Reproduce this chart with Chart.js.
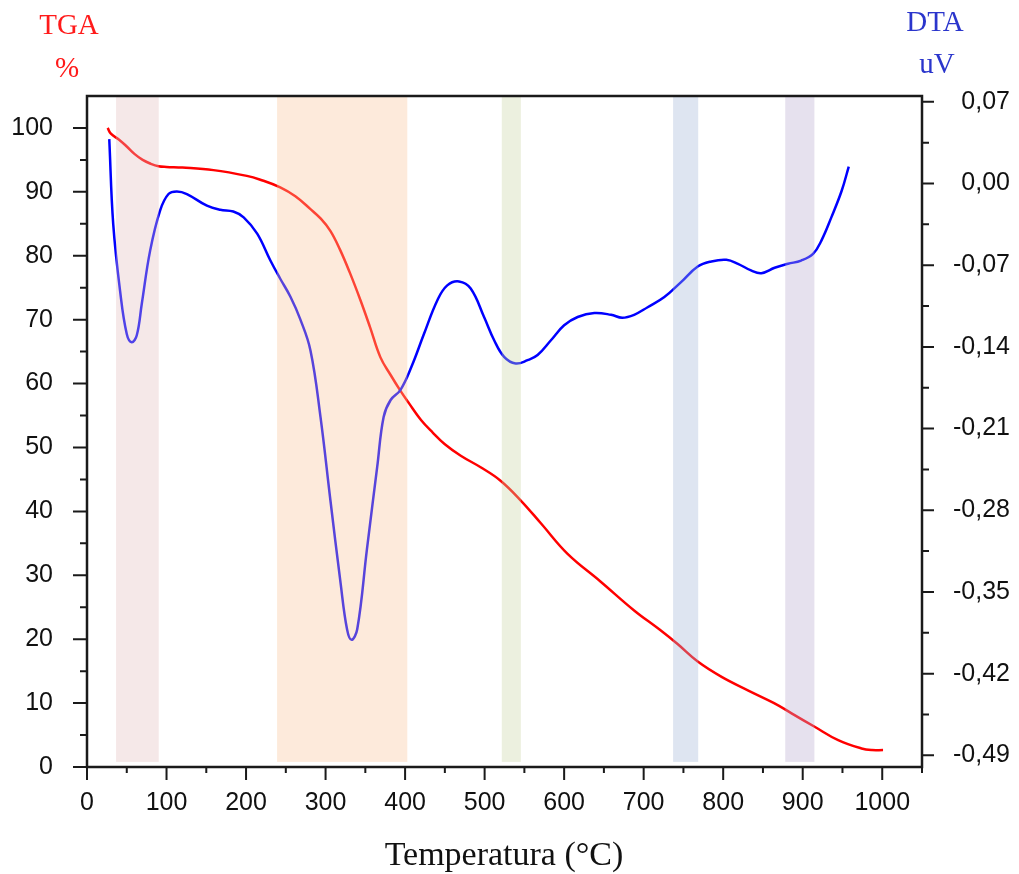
<!DOCTYPE html>
<html>
<head>
<meta charset="utf-8">
<script src="https://cdn.jsdelivr.net/npm/chart.js@4"></script>
<style>
  html, body { margin: 0; padding: 0; background: #fff; }
  #wrap { width: 1019px; height: 874px; }
</style>
</head>
<body>
<div id="wrap"><canvas id="grafico"></canvas></div>
<script>
// TGA (% massa) vs temperatura
const tgaTemp = [26, 30, 40, 50, 60, 70, 80, 90, 100, 120, 159, 201, 218, 243, 262, 281, 294, 306, 318, 331, 344, 356, 369, 382, 394, 405, 420, 435, 450, 470, 495, 520, 545.5, 571, 604, 646, 688, 720, 743, 768, 798, 831, 864, 886, 915, 944.6, 974, 987, 1001];
const tgaVal = [100, 99.1, 98.2, 97.1, 95.9, 95.0, 94.4, 94.0, 93.9, 93.8, 93.4, 92.5, 91.9, 90.7, 89.3, 87.3, 85.8, 83.9, 81.0, 77.2, 73.0, 68.8, 64.1, 61.3, 58.9, 56.9, 54.3, 52.3, 50.5, 48.7, 46.9, 44.8, 41.7, 38.1, 33.4, 29.0, 24.5, 21.5, 19.2, 16.5, 14.1, 12.0, 10.0, 8.4, 6.3, 4.2, 2.9, 2.65, 2.65];

// DTA (uV) vs temperatura
const dtaTemp = [28, 33, 41.6, 50, 56.3, 62.6, 68.9, 79.4, 92, 102.5, 113, 125.6, 150.8, 167.6, 184, 197, 214, 230.6, 243, 255.8, 268, 281, 293.6, 306, 318.8, 327, 332.6, 339.8, 352, 365, 373, 381.8, 394, 408, 423.7, 440.6, 453, 467.8, 482.5, 499.3, 512, 524.5, 539, 554, 566.6, 583.4, 600, 617, 638, 659, 673, 688, 705, 726, 747, 768, 785, 804, 818.6, 835, 848, 864.7, 881.6, 898, 913, 923.5, 936, 949, 957.9];
const dtaVal = [0.038, -0.035, -0.092, -0.129, -0.136, -0.130, -0.103, -0.0575, -0.023, -0.009, -0.0068, -0.009, -0.019, -0.0225, -0.024, -0.029, -0.043, -0.066, -0.0816, -0.097, -0.116, -0.143, -0.200, -0.271, -0.342, -0.382, -0.391, -0.382, -0.3135, -0.2424, -0.200, -0.1855, -0.177, -0.157, -0.129, -0.100, -0.0873, -0.0839, -0.090, -0.1144, -0.1343, -0.1485, -0.1542, -0.1514, -0.147, -0.1343, -0.1215, -0.1144, -0.111, -0.1125, -0.115, -0.1125, -0.106, -0.0973, -0.0845, -0.0711, -0.0668, -0.0654, -0.0688, -0.0745, -0.0768, -0.0722, -0.0688, -0.066, -0.0603, -0.0489, -0.029, -0.0062, 0.0145];

// faixas de temperatura destacadas
const faixaInicio = [36.5, 239, 521.6, 737, 878];
const faixaFim = [90.2, 402.8, 545.6, 768.6, 914.7];
const faixaBase = 0.8;
const faixaCores = ['rgba(226,189,189,0.35)', 'rgba(249,195,152,0.35)', 'rgba(201,212,164,0.35)', 'rgba(161,181,215,0.35)', 'rgba(184,169,206,0.35)'];

// ticks
const xTicks = [0, 100, 200, 300, 400, 500, 600, 700, 800, 900, 1000];
const xMinor = [50, 150, 250, 350, 450, 550, 650, 750, 850, 950, 1050];
const tgaTicks = [0, 10, 20, 30, 40, 50, 60, 70, 80, 90, 100];
const tgaMinor = [5, 15, 25, 35, 45, 55, 65, 75, 85, 95];
const dtaTicks = [-0.49, -0.42, -0.35, -0.28, -0.21, -0.14, -0.07, 0, 0.07];
const dtaMinor = [-0.455, -0.385, -0.315, -0.245, -0.175, -0.105, -0.035, 0.035];

const temMarca = (lista, v) => lista.some(t => Math.abs(t - v) < 1e-9);
const todos = (a, b) => [...a, ...b].sort((p, q) => p - q).map(v => ({ value: v }));

const fonteTicks = { family: 'Liberation Sans, Arial', size: 25 };

const molduraPlugin = {
  id: 'moldura',
  afterDatasetsDraw(chart) {
    const { ctx, chartArea: a, scales } = chart;
    const yb = scales.yTGA.getPixelForValue(faixaBase);
    ctx.save();
    faixaInicio.forEach((f, i) => {
      const x0 = scales.x.getPixelForValue(f);
      const x1 = scales.x.getPixelForValue(faixaFim[i]);
      ctx.fillStyle = faixaCores[i];
      ctx.fillRect(x0, a.top, x1 - x0, yb - a.top);
    });
    ctx.restore();
  },
  afterDraw(chart) {
    const { ctx, chartArea: a, scales } = chart;
    ctx.save();
    ctx.strokeStyle = '#1a1a1a';
    ctx.lineWidth = 2;
    ctx.beginPath();
    xTicks.concat(xMinor).forEach(v => {
      const p = scales.x.getPixelForValue(v);
      ctx.moveTo(p, a.bottom);
      ctx.lineTo(p, a.bottom + (temMarca(xTicks, v) ? 13 : 6));
    });
    tgaTicks.concat(tgaMinor).forEach(v => {
      const p = scales.yTGA.getPixelForValue(v);
      ctx.moveTo(a.left, p);
      ctx.lineTo(a.left - (temMarca(tgaTicks, v) ? 14 : 7), p);
    });
    dtaTicks.concat(dtaMinor).forEach(v => {
      const p = scales.yDTA.getPixelForValue(v);
      ctx.moveTo(a.right, p);
      ctx.lineTo(a.right + (temMarca(dtaTicks, v) ? 12 : 7), p);
    });
    ctx.stroke();
    ctx.lineWidth = 2.5;
    ctx.strokeRect(a.left, a.top, a.right - a.left, a.bottom - a.top);

    ctx.textAlign = 'center';
    ctx.textBaseline = 'alphabetic';
    ctx.font = '29px "Liberation Serif", "Times New Roman", serif';
    ctx.fillStyle = '#ff1a1a';
    ctx.fillText('TGA', 69, 34);
    ctx.fillText('%', 67, 77);
    ctx.fillStyle = '#2a35cc';
    ctx.fillText('DTA', 935, 31);
    ctx.fillText('uV', 937, 73);
    ctx.fillStyle = '#111';
    ctx.font = '34px "Liberation Serif", "Times New Roman", serif';
    ctx.fillText('Temperatura (°C)', 504, 865);
    ctx.restore();
  }
};

new Chart(document.getElementById('grafico'), {
  type: 'line',
  data: {
    datasets: [
      {
        label: 'DTA',
        data: dtaTemp.map((t, i) => ({ x: t, y: dtaVal[i] })),
        yAxisID: 'yDTA',
        borderColor: '#0000ff',
        borderWidth: 2.5,
        pointRadius: 0,
        tension: 0.4,
        order: 0
      },
      {
        label: 'TGA',
        data: tgaTemp.map((t, i) => ({ x: t, y: tgaVal[i] })),
        yAxisID: 'yTGA',
        borderColor: '#ff0000',
        borderWidth: 2.5,
        pointRadius: 0,
        tension: 0.4,
        order: 1
      }
    ]
  },
  options: {
    responsive: true,
    maintainAspectRatio: false,
    animation: false,
    layout: { padding: { top: 96, right: 9, left: 0, bottom: 0 } },
    plugins: { legend: { display: false }, tooltip: { enabled: false } },
    scales: {
      x: {
        type: 'linear',
        min: 0,
        max: 1050,
        afterBuildTicks: s => { s.ticks = todos(xTicks, xMinor); },
        afterFit: s => { s.height = 107; },
        border: { display: false },
        grid: { drawOnChartArea: false, tickColor: 'transparent', tickLength: 13 },
        ticks: {
          autoSkip: false,
          maxRotation: 0,
          padding: 8,
          color: '#111',
          font: fonteTicks,
          callback: v => temMarca(xTicks, v) ? String(v) : ''
        }
      },
      yTGA: {
        type: 'linear',
        position: 'left',
        min: 0,
        max: 105,
        afterBuildTicks: s => { s.ticks = todos(tgaTicks, tgaMinor); },
        afterFit: s => { s.width = 87; },
        border: { display: false },
        grid: { drawOnChartArea: false, tickColor: 'transparent', tickLength: 14 },
        ticks: {
          autoSkip: false,
          padding: 20,
          color: '#111',
          font: fonteTicks,
          callback: v => temMarca(tgaTicks, v) ? String(v) : ''
        }
      },
      yDTA: {
        type: 'linear',
        position: 'right',
        min: -0.5,
        max: 0.075,
        afterBuildTicks: s => { s.ticks = todos(dtaTicks, dtaMinor); },
        afterFit: s => { s.width = 88; },
        border: { display: false },
        grid: { drawOnChartArea: false, tickColor: 'transparent', tickLength: 12 },
        ticks: {
          autoSkip: false,
          crossAlign: 'far',
          padding: 10,
          color: '#111',
          font: fonteTicks,
          callback: v => temMarca(dtaTicks, v) ? v.toFixed(2).replace('.', ',') : ''
        }
      }
    }
  },
  plugins: [molduraPlugin]
});
</script>
</body>
</html>
